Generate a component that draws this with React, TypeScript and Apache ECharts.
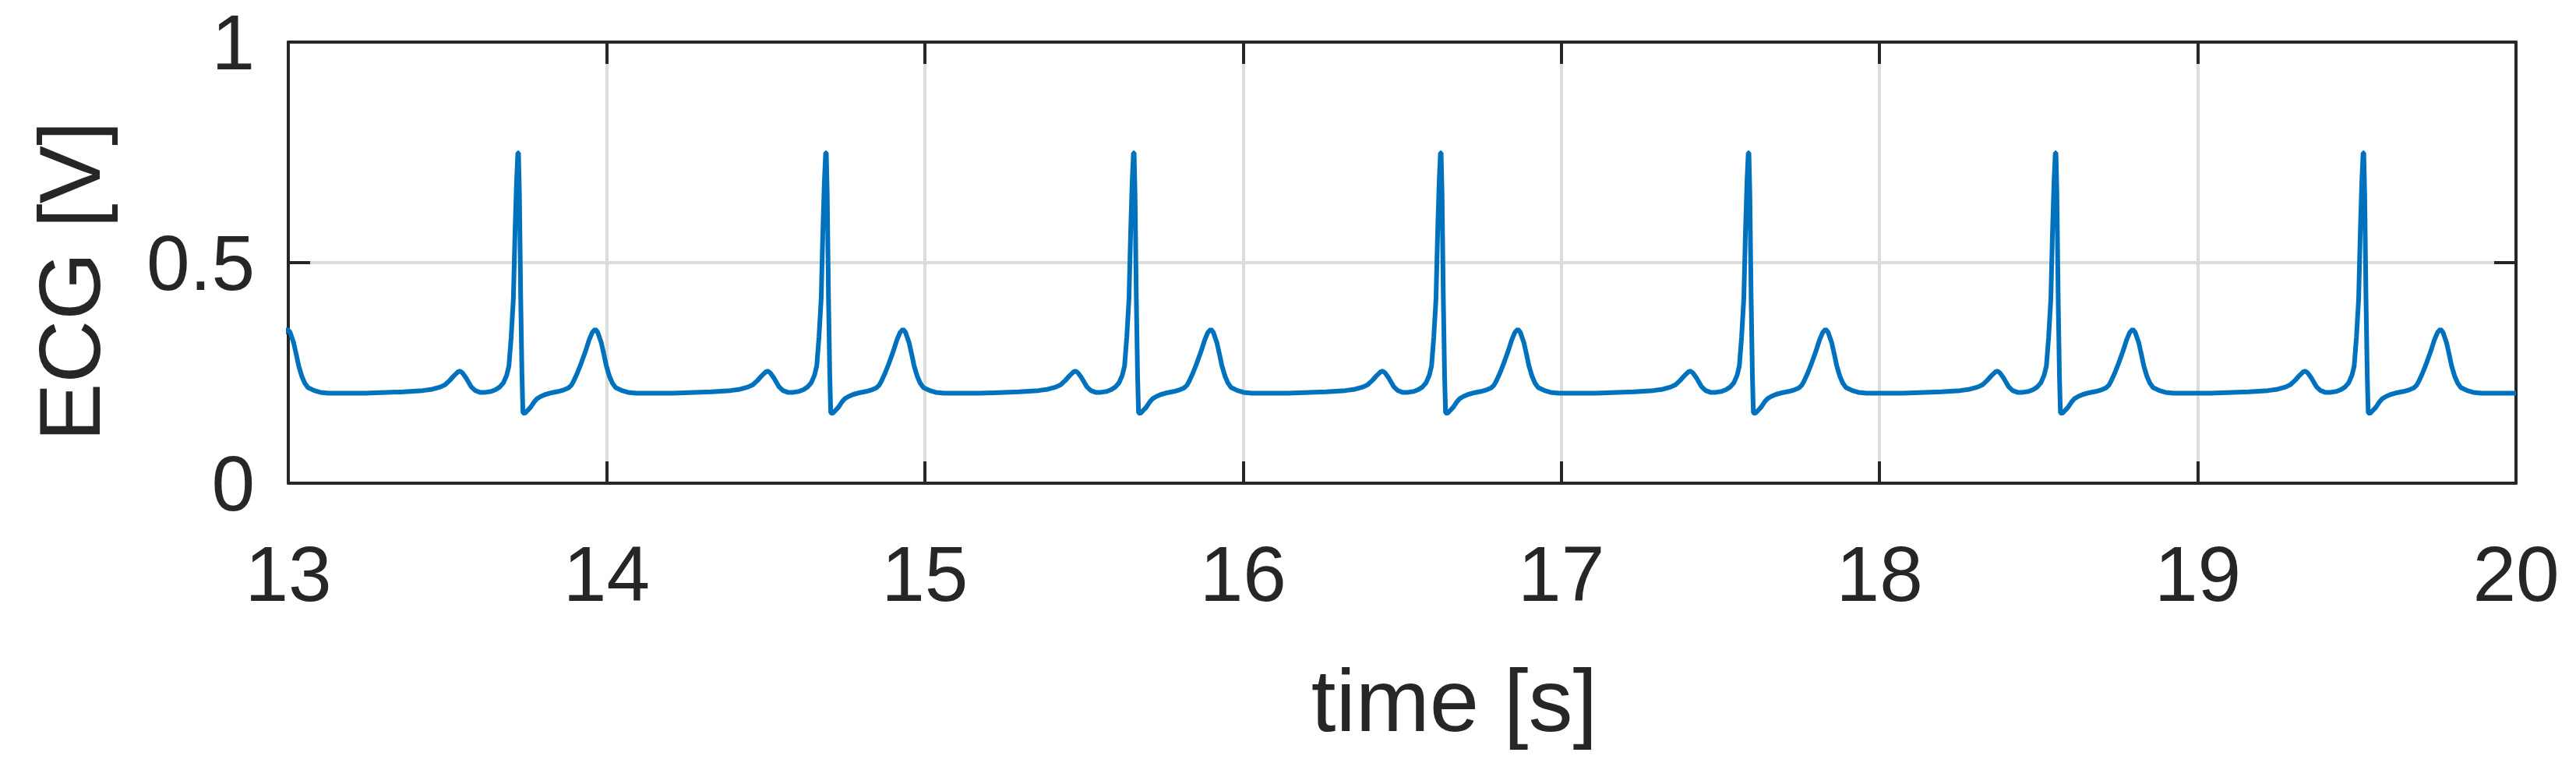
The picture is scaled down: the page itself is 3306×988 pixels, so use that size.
import React, { useEffect, useRef } from "react";
import * as echarts from "echarts";

// R-peak times of the beats (s) (first one only shows its T wave)
const beatTimes = [12.7556, 13.7223, 14.6895, 15.6567, 16.6214, 17.5886, 18.5534, 19.5206];

// One heartbeat: [offset from R peak (s), ECG (V)]
const beatShape: [number, number][] = [
  [-0.48, 0.204], [-0.36, 0.207], [-0.3, 0.21], [-0.27, 0.213], [-0.245, 0.218],
  [-0.23, 0.223], [-0.215, 0.233], [-0.2, 0.245], [-0.188, 0.253], [-0.182, 0.254],
  [-0.175, 0.25], [-0.164, 0.239], [-0.148, 0.219], [-0.135, 0.21], [-0.12, 0.206],
  [-0.103, 0.206], [-0.085, 0.208], [-0.071, 0.212], [-0.058, 0.218], [-0.046, 0.228],
  [-0.036, 0.245], [-0.029, 0.266], [-0.022, 0.331], [-0.015, 0.419], [-0.01, 0.566],
  [-0.005, 0.685], [-0.001, 0.749], [0.001, 0.749], [0.004, 0.655], [0.008, 0.419],
  [0.012, 0.243], [0.015, 0.16], [0.02, 0.158], [0.026, 0.162], [0.039, 0.172],
  [0.05, 0.184], [0.06, 0.192], [0.072, 0.197], [0.085, 0.201], [0.105, 0.205],
  [0.126, 0.208], [0.145, 0.212], [0.158, 0.216], [0.167, 0.222], [0.174, 0.231],
  [0.186, 0.25], [0.198, 0.272], [0.211, 0.298], [0.223, 0.325], [0.233, 0.342],
  [0.242, 0.349], [0.25, 0.342], [0.261, 0.319], [0.27, 0.29], [0.277, 0.266],
  [0.287, 0.242], [0.296, 0.227], [0.306, 0.217], [0.326, 0.21], [0.345, 0.206],
  [0.37, 0.204],
];

// last sample of the record (baseline at t = 20 s)
const endPoint: [number, number] = [20, 0.204];

const xTicks = [13, 14, 15, 16, 17, 18, 19, 20];
const yTicks = [0, 0.5, 1];

const FONT = "'Liberation Sans', Arial, Helvetica, sans-serif";
const AXIS = "#262626";
const GRID = "#DCDCDC";

export default function App() {
  const ref = useRef<HTMLDivElement>(null);

  useEffect(() => {
    if (!ref.current) return;
    const chart = echarts.init(ref.current, undefined, { renderer: "svg" });

    const data: [number, number][] = [];
    beatTimes.forEach((r) => {
      beatShape.forEach(([dt, v]) => data.push([+(r + dt).toFixed(4), v]));
    });
    data.push(endPoint);

    const tickLen = 28;
    const lw = 4;

    chart.setOption({
      animation: false,
      backgroundColor: "#ffffff",
      grid: { left: 370, right: 77, top: 54, bottom: 368, containLabel: false },
      xAxis: [
        {
          type: "value",
          min: xTicks[0],
          max: xTicks[xTicks.length - 1],
          interval: 1,
          name: "time [s]",
          nameLocation: "middle",
          nameGap: 221,
          nameTextStyle: { fontFamily: FONT, fontSize: 114, color: AXIS, padding: [0, 0, 0, 134] },
          axisLine: { show: true, onZero: false, lineStyle: { color: AXIS, width: lw } },
          axisTick: { show: true, inside: true, length: tickLen, lineStyle: { color: AXIS, width: lw } },
          axisLabel: { fontFamily: FONT, fontSize: 100, color: AXIS, margin: 66 },
          splitLine: { show: true, lineStyle: { color: GRID, width: lw } },
        },
        {
          type: "value",
          position: "top",
          min: xTicks[0],
          max: xTicks[xTicks.length - 1],
          interval: 1,
          axisLine: { show: true, onZero: false, lineStyle: { color: AXIS, width: lw } },
          axisTick: { show: true, inside: true, length: tickLen, lineStyle: { color: AXIS, width: lw } },
          axisLabel: { show: false },
          splitLine: { show: false },
        },
      ],
      yAxis: [
        {
          type: "value",
          min: yTicks[0],
          max: yTicks[yTicks.length - 1],
          interval: 0.5,
          name: "ECG [V]",
          nameLocation: "middle",
          nameGap: 225,
          nameTextStyle: { fontFamily: FONT, fontSize: 112, color: AXIS, padding: [0, 48, 0, 0] },
          axisLine: { show: true, onZero: false, lineStyle: { color: AXIS, width: lw } },
          axisTick: { show: true, inside: true, length: tickLen, lineStyle: { color: AXIS, width: lw } },
          axisLabel: {
            fontFamily: FONT,
            fontSize: 100,
            lineHeight: 84,
            color: AXIS,
            margin: 43,
            padding: [12, 0, 0, 0],
          },
          splitLine: { show: true, lineStyle: { color: GRID, width: lw } },
        },
        {
          type: "value",
          position: "right",
          min: yTicks[0],
          max: yTicks[yTicks.length - 1],
          interval: 0.5,
          axisLine: { show: true, onZero: false, lineStyle: { color: AXIS, width: lw } },
          axisTick: { show: true, inside: true, length: tickLen, lineStyle: { color: AXIS, width: lw } },
          axisLabel: { show: false },
          splitLine: { show: false },
        },
      ],
      series: [
        {
          type: "line",
          data,
          showSymbol: false,
          symbol: "none",
          clip: true,
          lineStyle: { color: "#0072BD", width: 6 },
          z: 1,
        },
      ],
    });

    return () => chart.dispose();
  }, []);

  return (
    <div
      ref={ref}
      style={{ position: "fixed", left: 0, top: 0, width: 3306, height: 988, background: "#fff" }}
    />
  );
}
